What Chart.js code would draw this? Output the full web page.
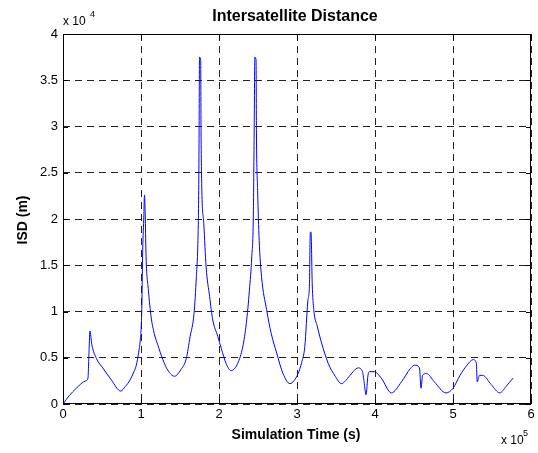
<!DOCTYPE html>
<html>
<head>
<meta charset="utf-8">
<script src="https://cdn.jsdelivr.net/npm/chart.js@4"></script>
<style>
  html, body { margin: 0; padding: 0; background: #fff; }
  #wrap { width: 538px; height: 453px; }
</style>
</head>
<body>
<div id="wrap"><canvas id="isdChart" width="538" height="453"></canvas></div>
<script>
// time in seconds, ISD in metres
const timeSec = [
  0, 8000, 17000, 29000, 32000, 33500, 34500, 37000, 43000, 51000,
  62000, 74000, 80000, 86000, 91000, 94000, 97000, 99000, 101000, 102000,
  103500, 104500, 105500, 106500, 109500, 113000, 117000, 121500, 128000, 134000,
  143000, 151000, 158000, 163000, 168000, 171000, 173000, 174000, 174500, 175000,
  176500, 177000, 178000, 180500, 183500, 188000, 192000, 198500, 203000, 209000,
  215500, 224000, 230500, 235000, 239000, 242000, 244000, 245000, 246000, 247500,
  248000, 249500, 251500, 254500, 261000, 267000, 274000, 282000, 291000, 296000,
  301500, 306000, 310000, 314000, 316000, 317000, 318000, 319500, 321500, 326000,
  331500, 340000, 349000, 357000, 361000, 368000, 378500, 384000, 386000, 388500,
  391000, 393000, 399000, 408000, 421000, 434000, 445000, 451000, 457000, 459000,
  461000, 466000, 476000, 491000, 500000, 509000, 518000, 526000, 530000, 531000,
  534000, 538000, 549000, 560000, 568000, 577000
];
const isdM = [
  0, 900, 1700, 2500, 2800, 6000, 7900, 6400, 4900, 3900,
  2600, 1400, 1900, 2600, 3500, 4200, 5600, 6900, 10200, 15900,
  20000, 22600, 20000, 15900, 12300, 9400, 7600, 6400, 4800, 3700,
  3000, 3700, 4900, 7300, 9800, 13800, 17700, 23100, 29600, 37500,
  37200, 29300, 23100, 19500, 14800, 11600, 9100, 7300, 6000, 4400,
  3600, 4400, 6200, 8700, 12300, 15900, 20200, 28500, 37500, 37200,
  29300, 23100, 17700, 13800, 10200, 7600, 5500, 3300, 2200, 2500,
  3300, 4500, 6200, 11200, 13000, 18500, 18600, 13000, 10200, 8400,
  6600, 4400, 3000, 2200, 2400, 3100, 3900, 3500, 2400, 1000,
  3100, 3500, 3500, 2800, 1200, 2400, 3800, 4200, 3900, 1700,
  3100, 3300, 2400, 1200, 1700, 3100, 4200, 4800, 4400, 2400,
  3100, 3100, 2100, 1200, 1900, 2800
];
const xTicks = [0, 1, 2, 3, 4, 5, 6];        // x 10^5
const yTicks = [0, 0.5, 1, 1.5, 2, 2.5, 3, 3.5, 4]; // x 10^4

const chartTitle = "Intersatellite Distance";
const xTitle = "Simulation Time (s)";
const yTitle = "ISD (m)";

const points = timeSec.map((t, i) => ({ x: t, y: isdM[i] }));

// matlab style box, inward ticks and labels
const matlabDecor = {
  id: "matlabDecor",
  afterDraw(chart) {
    const ctx = chart.ctx;
    const a = chart.chartArea;
    const xs = chart.scales.x, ys = chart.scales.y;
    ctx.save();
    ctx.strokeStyle = "#000";
    ctx.lineWidth = 1;
    ctx.strokeRect(a.left + 0.5, a.top + 0.5, a.right - a.left - 1, a.bottom - a.top - 1);

    ctx.beginPath();
    xTicks.forEach(v => {
      const px = Math.round(xs.getPixelForValue(v * 1e5)) + 0.5;
      ctx.moveTo(px, a.bottom); ctx.lineTo(px, a.bottom - 5);
      ctx.moveTo(px, a.top); ctx.lineTo(px, a.top + 5);
    });
    yTicks.forEach(v => {
      const py = Math.round(ys.getPixelForValue(v * 1e4)) + 0.5;
      ctx.moveTo(a.left, py); ctx.lineTo(a.left + 5, py);
      ctx.moveTo(a.right, py); ctx.lineTo(a.right - 5, py);
    });
    ctx.stroke();

    ctx.fillStyle = "#000";
    ctx.textAlign = "center";
    ctx.textBaseline = "middle";
    ctx.font = "bold 16px 'Liberation Sans', Arial, sans-serif";
    ctx.fillText(chartTitle, 295, 17);

    ctx.font = "bold 14px 'Liberation Sans', Arial, sans-serif";
    ctx.fillText(xTitle, 296, 435);

    ctx.save();
    ctx.translate(23, 220);
    ctx.rotate(-Math.PI / 2);
    ctx.fillText(yTitle, 0, 0);
    ctx.restore();

    // exponent labels
    ctx.textAlign = "left";
    ctx.font = "12px 'Liberation Sans', Arial, sans-serif";
    ctx.fillText("x 10", 63, 22);
    ctx.fillText("x 10", 501, 441);
    ctx.font = "9px 'Liberation Sans', Arial, sans-serif";
    ctx.fillText("4", 90, 15);
    ctx.fillText("5", 523, 434);
    ctx.restore();
  }
};

new Chart(document.getElementById("isdChart"), {
  type: "line",
  data: {
    datasets: [{
      data: points,
      borderColor: "#0000ff",
      borderWidth: 1,
      pointRadius: 0,
      cubicInterpolationMode: "monotone",
      fill: false
    }]
  },
  options: {
    responsive: false,
    animation: false,
    events: [],
    layout: { padding: { top: 34, right: 7, left: 0, bottom: 0 } },
    plugins: { legend: { display: false }, tooltip: { enabled: false } },
    scales: {
      x: {
        type: "linear",
        min: 0, max: 6e5,
        afterFit(s) { s.height = 49; },
        afterBuildTicks(s) { s.ticks = xTicks.map(v => ({ value: v * 1e5 })); },
        border: { display: false, dash: [7, 5] },
        grid: { color: "#222", lineWidth: 1, drawTicks: false },
        ticks: {
          padding: 3,
          color: "#000",
          font: { family: "'Liberation Sans', Arial, sans-serif", size: 13 },
          callback: v => String(v / 1e5)
        }
      },
      y: {
        min: 0, max: 4e4,
        afterFit(s) { s.width = 63; },
        afterBuildTicks(s) { s.ticks = yTicks.map(v => ({ value: v * 1e4 })); },
        border: { display: false, dash: [7, 5] },
        grid: { color: "#222", lineWidth: 1, drawTicks: false },
        ticks: {
          padding: 5,
          color: "#000",
          font: { family: "'Liberation Sans', Arial, sans-serif", size: 13 },
          callback: v => String(v / 1e4)
        }
      }
    }
  },
  plugins: [matlabDecor]
});
</script>
</body>
</html>
